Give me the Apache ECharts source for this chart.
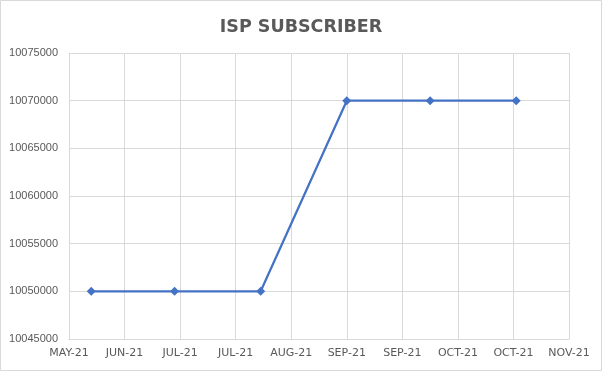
<!DOCTYPE html>
<html>
<head>
<meta charset="utf-8">
<script src="https://cdn.jsdelivr.net/npm/echarts@6/dist/echarts.min.js"></script>
<style>html,body{margin:0;padding:0;background:#fff}#c{width:602px;height:371px}</style>
</head>
<body>
<div id="c"></div>
<script>
// Data
const pointDates = ['2021-06-01','2021-07-01','2021-08-01','2021-09-01','2021-10-01','2021-11-01'];
const subscribers = [10050000, 10050000, 10050000, 10070000, 10070000, 10070000];
const axisStartDate = '2021-05-24';
const xTickStepDays = 20;
const xTickLabels = ['MAY-21','JUN-21','JUL-21','JUL-21','AUG-21','SEP-21','SEP-21','OCT-21','OCT-21','NOV-21'];
const yMin = 10045000, yMax = 10075000, yStep = 5000;

function dayOffset(d){
  const p = s => { const a = s.split('-').map(Number); return Date.UTC(a[0], a[1]-1, a[2]); };
  return (p(d) - p(axisStartDate)) / 86400000;
}
const seriesData = pointDates.map((d,i) => [dayOffset(d), subscribers[i]]);

const chart = echarts.init(document.getElementById('c'), null, {renderer:'canvas'});
chart.setOption({
  animation:false,
  backgroundColor:'#ffffff',
  title:{
    text:'ISP SUBSCRIBER', left:'center', top:13,
    textStyle:{fontFamily:'DejaVu Sans', fontWeight:'bold', fontSize:17.5, color:'#595959'}
  },
  graphic:[{type:'rect', shape:{x:0.5,y:0.5,width:601,height:370}, style:{fill:'none', stroke:'#d9d9d9', lineWidth:1}, silent:true}],
  grid:{left:69, right:33, top:53, bottom:32},
  xAxis:{
    type:'value', min:0, max:xTickStepDays*(xTickLabels.length-1), interval:xTickStepDays,
    axisLine:{show:true, lineStyle:{color:'#d9d9d9', width:1}},
    axisTick:{show:false},
    splitLine:{show:true, lineStyle:{color:'#d9d9d9', width:1}},
    axisLabel:{
      margin:9, fontSize:11, color:'#595959', fontFamily:'DejaVu Sans',
      formatter: v => xTickLabels[Math.round(v / xTickStepDays)] || ''
    }
  },
  yAxis:{
    type:'value', min:yMin, max:yMax, interval:yStep,
    axisLine:{show:false}, axisTick:{show:false},
    splitLine:{show:true, lineStyle:{color:'#d9d9d9', width:1}},
    axisLabel:{margin:11, fontSize:11, color:'#595959', fontFamily:'Liberation Sans', formatter: v => String(v)}
  },
  series:[{
    type:'line', data:seriesData,
    symbol:'diamond', symbolSize:9,
    lineStyle:{color:'#4472C4', width:2.25},
    itemStyle:{color:'#4472C4'}
  }]
});
</script>
</body>
</html>
